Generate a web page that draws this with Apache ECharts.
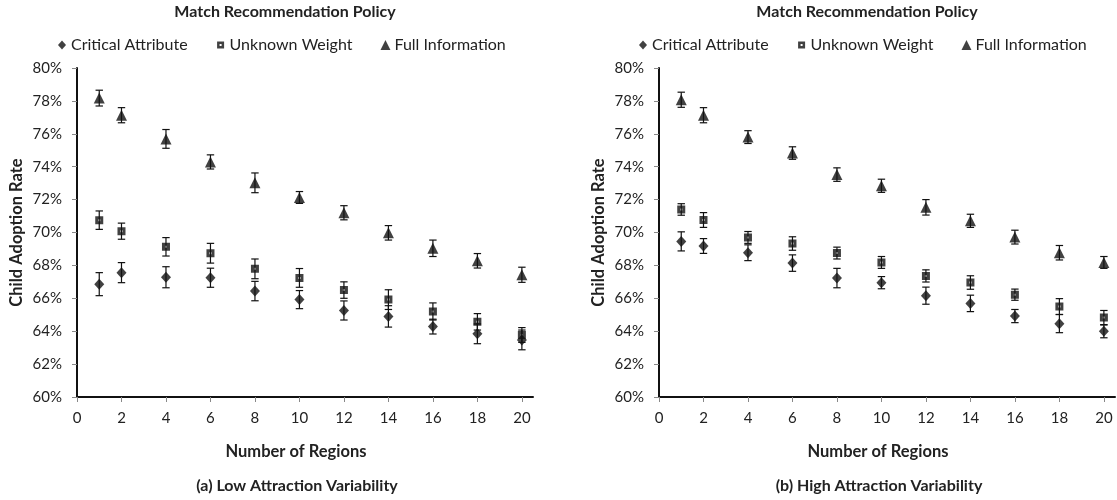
<!DOCTYPE html>
<html>
<head>
<meta charset="utf-8">
<script src="https://cdn.jsdelivr.net/npm/echarts@6/dist/echarts.min.js"></script>
<style>
html,body{margin:0;padding:0;background:#fff;}
#chart{width:1117px;height:500px;}
</style>
</head>
<body>
<div id="chart"></div>
<script>
const regions = [1, 2, 4, 6, 8, 10, 12, 14, 16, 18, 20];
const xTicks = [0, 2, 4, 6, 8, 10, 12, 14, 16, 18, 20];
const yTicks = [60, 62, 64, 66, 68, 70, 72, 74, 76, 78, 80];
const seriesNames = ['Critical Attribute', 'Unknown Weight', 'Full Information'];

// (a) Low Attraction Variability
const lowCritical    = [66.86, 67.56, 67.28, 67.25, 66.44, 65.92, 65.26, 64.90, 64.28, 63.84, 63.47];
const lowCriticalErr = [0.70, 0.61, 0.64, 0.58, 0.59, 0.55, 0.58, 0.65, 0.45, 0.60, 0.60];
const lowUnknown     = [70.75, 70.08, 69.13, 68.74, 67.79, 67.24, 66.50, 65.92, 65.20, 64.57, 63.77];
const lowUnknownErr  = [0.56, 0.49, 0.56, 0.60, 0.60, 0.57, 0.50, 0.60, 0.52, 0.50, 0.45];
const lowFull        = [78.17, 77.13, 75.69, 74.29, 73.02, 72.13, 71.20, 69.98, 69.04, 68.28, 67.43];
const lowFullErr     = [0.48, 0.46, 0.57, 0.43, 0.60, 0.36, 0.43, 0.44, 0.50, 0.44, 0.46];

// (b) High Attraction Variability
const highCritical    = [69.46, 69.18, 68.77, 68.14, 67.23, 66.95, 66.16, 65.69, 64.92, 64.46, 63.99];
const highCriticalErr = [0.58, 0.45, 0.48, 0.50, 0.59, 0.37, 0.52, 0.50, 0.40, 0.55, 0.39];
const highUnknown     = [71.40, 70.76, 69.70, 69.33, 68.75, 68.18, 67.36, 66.96, 66.22, 65.50, 64.83];
const highUnknownErr  = [0.35, 0.45, 0.36, 0.41, 0.36, 0.36, 0.37, 0.41, 0.34, 0.48, 0.43];
const highFull        = [78.07, 77.13, 75.80, 74.83, 73.52, 72.84, 71.53, 70.71, 69.72, 68.77, 68.18];
const highFullErr     = [0.46, 0.46, 0.39, 0.38, 0.41, 0.40, 0.47, 0.40, 0.42, 0.44, 0.36];

const FONT = 'Lato';
const TXT = '#222';

function pts(vals) { return regions.map((x, i) => [x, vals[i]]); }
function errPts(vals, errs) { return regions.map((x, i) => [x, vals[i] - errs[i], vals[i] + errs[i]]); }

function errRender(params, api) {
  const x = api.value(0), lo = api.value(1), hi = api.value(2);
  const a = api.coord([x, hi]), b = api.coord([x, lo]);
  const hw = 3.7;
  const style = { stroke: '#111', lineWidth: 1.2 };
  return {
    type: 'group',
    children: [
      { type: 'line', shape: { x1: a[0], y1: a[1], x2: b[0], y2: b[1] }, style },
      { type: 'line', shape: { x1: a[0] - hw, y1: a[1], x2: a[0] + hw, y2: a[1] }, style },
      { type: 'line', shape: { x1: b[0] - hw, y1: b[1], x2: b[0] + hw, y2: b[1] }, style }
    ]
  };
}

const squareRing = 'path://M0,0 L8,0 L8,8 L0,8 Z M3,3 L3,5 L5,5 L5,3 Z';
const squareRingLegend = 'path://M0,0 M10,10 M1.5,1.5 L8.5,1.5 L8.5,8.5 L1.5,8.5 Z M4,4 L4,6 L6,6 L6,4 Z';
const diamondLegend = 'path://M0,0 M10,10 M5,0.5 L9,5 L5,9.5 L1,5 Z';

const symbolDefs = [
  { symbol: 'diamond', size: [10, 11] },
  { symbol: squareRing, size: 8 },
  { symbol: 'triangle', size: [11, 11] }
];

const panels = [
  { vals: [lowCritical, lowUnknown, lowFull], errs: [lowCriticalErr, lowUnknownErr, lowFullErr] },
  { vals: [highCritical, highUnknown, highFull], errs: [highCriticalErr, highUnknownErr, highFullErr] }
];

const gridLefts = [77, 659];
const grids = gridLefts.map(l => ({ left: l, top: 68, width: 456, height: 329 }));

const xAxes = [0, 1].map(i => ({
  type: 'value', gridIndex: i, min: 0, max: 20.5, interval: 2,
  name: 'Number of Regions', nameLocation: 'middle', nameGap: 46,
  nameTextStyle: { fontFamily: FONT, fontWeight: 'bold', fontSize: 16.5, color: TXT, padding: [0, 18, 0, 0] },
  axisLine: { show: true, onZero: false, lineStyle: { color: '#111', width: 2 } },
  axisTick: { show: true, inside: false, length: 5, lineStyle: { color: '#888', width: 1 }, customValues: xTicks },
  axisLabel: { fontFamily: FONT, fontSize: 15, color: TXT, margin: 14, customValues: xTicks },
  splitLine: { show: false }
}));

const yAxes = [0, 1].map(i => ({
  type: 'value', gridIndex: i, min: 60, max: 80, interval: 2,
  name: 'Child Adoption Rate', nameLocation: 'middle', nameGap: 52,
  nameTextStyle: { fontFamily: FONT, fontWeight: 'bold', fontSize: 16.5, color: TXT },
  axisLine: { show: true, onZero: false, lineStyle: { color: '#111', width: 2 } },
  axisTick: { show: true, inside: false, length: 5, lineStyle: { color: '#888', width: 1 }, customValues: yTicks },
  axisLabel: { fontFamily: FONT, fontSize: 15, color: TXT, margin: 15, formatter: v => v + '%', customValues: yTicks },
  splitLine: { show: false }
}));

const series = [];
panels.forEach((p, pi) => {
  for (let s = 0; s < 3; s++) {
    series.push({
      type: 'custom', name: seriesNames[s] + ' error ' + pi,
      xAxisIndex: pi, yAxisIndex: pi, z: 2,
      renderItem: errRender, data: errPts(p.vals[s], p.errs[s]),
      encode: { x: 0, y: [1, 2] }, silent: true
    });
  }
  for (let s = 0; s < 3; s++) {
    const d = symbolDefs[s];
    series.push({
      type: 'scatter', name: seriesNames[s], xAxisIndex: pi, yAxisIndex: pi, z: 5,
      symbol: d.symbol, symbolSize: d.size, itemStyle: { color: '#111' },
      data: pts(p.vals[s])
    });
  }
});

const legends = [52, 633].map(l => ({
  left: l, top: 32, orient: 'horizontal', itemGap: 28, itemWidth: 10, itemHeight: 10,
  data: [
    { name: seriesNames[0], icon: diamondLegend },
    { name: seriesNames[1], icon: squareRingLegend },
    { name: seriesNames[2], icon: 'triangle' }
  ],
  textStyle: { fontFamily: FONT, fontSize: 16, color: TXT, padding: [0, 0, 0, -1] },
  selectedMode: false
}));

const texts = [
  { x: 285, y: 12, t: 'Match Recommendation Policy' },
  { x: 867, y: 12, t: 'Match Recommendation Policy' },
  { x: 297, y: 486, t: '(a) Low Attraction Variability' },
  { x: 879, y: 486, t: '(b) High Attraction Variability' }
];

const chart = echarts.init(document.getElementById('chart'), null, { renderer: 'canvas' });
chart.setOption({
  animation: false,
  backgroundColor: '#fff',
  grid: grids,
  xAxis: xAxes,
  yAxis: yAxes,
  legend: legends,
  graphic: texts.map(o => ({
    type: 'text', x: o.x, y: o.y,
    style: { text: o.t, fontFamily: FONT, fontWeight: 'bold', fontSize: 16, fill: TXT, textAlign: 'center', textVerticalAlign: 'middle' }
  })),
  series
});
</script>
</body>
</html>
